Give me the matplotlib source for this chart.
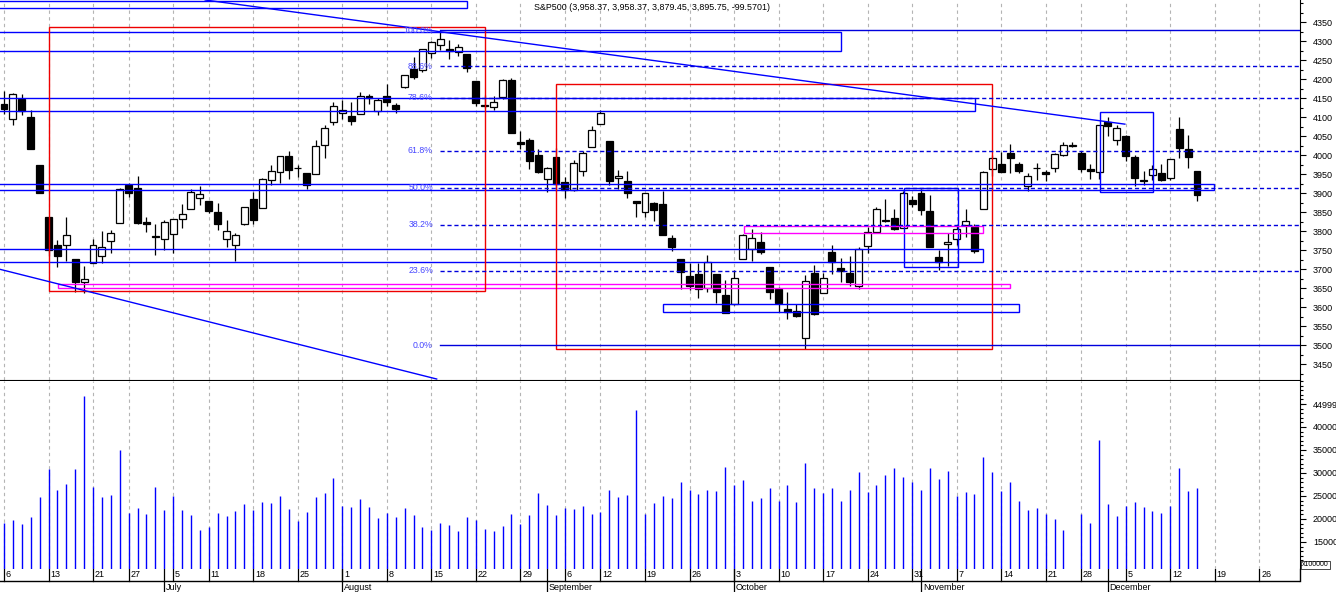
import numpy as np
import pandas as pd
import matplotlib
matplotlib.use("Agg")
import matplotlib.pyplot as plt
from matplotlib.patches import Rectangle
from matplotlib.ticker import FixedLocator, MultipleLocator

plt.rcParams['font.family'] = ['Liberation Sans', 'DejaVu Sans']

# trading days (US market holidays skipped) + blank days to the right
holidays = pd.to_datetime(['2022-06-20', '2022-07-04', '2022-09-05', '2022-11-24'])
days = pd.bdate_range('2022-06-06', '2022-12-15')
days = days[~days.isin(holidays)]
axis_days = days.append(pd.bdate_range('2022-12-16', '2022-12-30'))

opens = [4134.72, 4096.47, 4147.12, 4101.65, 3974.39, 3838.15, 3763.52, 3764.05, 3728.18, 3665.90,
         3715.31, 3733.89, 3774.71, 3821.75, 3920.76, 3913.00, 3825.09, 3785.99, 3781.00, 3792.61,
         3831.98, 3858.85, 3888.26, 3880.94, 3851.95, 3779.67, 3763.99, 3818.00, 3883.79, 3860.73,
         3935.32, 3955.47, 3998.43, 3965.72, 3953.22, 3951.43, 4026.13, 4087.33, 4112.38, 4104.21,
         4107.96, 4154.85, 4115.87, 4155.93, 4133.11, 4181.02, 4227.40, 4225.02, 4269.37, 4290.46,
         4280.40, 4273.13, 4266.31, 4195.08, 4133.09, 4126.55, 4153.26, 4198.74, 4034.58, 4041.25,
         4000.67, 3936.73, 3994.66, 3930.89, 3909.43, 3959.94, 4022.94, 4083.67, 4037.12, 3940.73,
         3932.41, 3880.95, 3849.91, 3875.23, 3871.40, 3782.36, 3727.14, 3682.72, 3686.44, 3651.94,
         3687.01, 3633.48, 3609.78, 3726.46, 3753.25, 3771.97, 3706.74, 3647.51, 3595.86, 3590.83,
         3520.37, 3690.41, 3638.65, 3746.26, 3703.11, 3689.05, 3657.10, 3762.01, 3799.44, 3825.97,
         3834.69, 3808.26, 3881.85, 3901.79, 3852.90, 3733.25, 3766.98, 3780.71, 3817.02, 3810.94,
         3859.89, 3963.72, 3977.97, 4006.41, 3976.82, 3919.26, 3966.39, 3956.23, 3965.51, 4000.30,
         4023.34, 4005.36, 3964.19, 3957.18, 4087.14, 4040.17, 4052.02, 3996.63, 3933.28, 3947.79,
         3954.17, 3939.29, 4069.38, 4015.54, 3958.37]
highs = [4168.78, 4164.86, 4160.14, 4119.10, 3974.39, 3838.15, 3778.18, 3837.56, 3728.18, 3707.71,
         3779.65, 3801.79, 3802.58, 3913.65, 3927.72, 3945.86, 3836.50, 3818.99, 3829.82, 3832.19,
         3870.91, 3910.63, 3918.50, 3880.94, 3873.41, 3829.44, 3796.41, 3863.62, 3902.44, 3939.81,
         3974.13, 3999.29, 4012.44, 3975.30, 3953.22, 4039.56, 4078.95, 4140.15, 4144.95, 4140.47,
         4167.66, 4161.29, 4151.58, 4186.62, 4137.30, 4211.03, 4257.91, 4280.47, 4301.79, 4325.28,
         4302.18, 4292.53, 4266.31, 4195.08, 4159.77, 4156.56, 4200.54, 4203.04, 4062.99, 4044.98,
         4015.37, 3970.23, 4018.43, 3942.55, 3987.89, 4010.50, 4076.81, 4119.28, 4037.12, 3961.94,
         3959.14, 3880.95, 3900.45, 3876.01, 3907.07, 3790.00, 3727.14, 3715.67, 3717.53, 3736.74,
         3687.01, 3671.44, 3698.35, 3791.92, 3806.91, 3797.93, 3706.74, 3652.17, 3640.66, 3608.34,
         3685.41, 3712.00, 3689.73, 3762.79, 3728.58, 3736.00, 3757.89, 3810.74, 3862.85, 3886.15,
         3859.95, 3905.42, 3893.73, 3911.79, 3894.44, 3750.59, 3796.34, 3813.95, 3859.40, 3818.20,
         3958.33, 4001.48, 4008.97, 4028.84, 3983.09, 3954.33, 3979.89, 3962.00, 4005.88, 4033.78,
         4034.02, 4012.27, 3976.77, 4080.11, 4100.51, 4080.48, 4052.45, 4001.51, 3957.57, 3974.19,
         3977.02, 3990.71, 4100.96, 4053.76, 3958.37]
lows = [4109.18, 4080.19, 4107.20, 4017.17, 3900.16, 3734.30, 3705.68, 3722.30, 3639.77, 3636.87,
        3715.31, 3717.69, 3743.52, 3821.75, 3889.66, 3820.14, 3799.02, 3738.67, 3752.10, 3742.06,
        3809.37, 3858.85, 3869.34, 3847.22, 3802.36, 3759.07, 3721.56, 3817.18, 3818.63, 3860.73,
        3922.03, 3927.64, 3938.85, 3943.46, 3910.74, 3951.43, 3992.97, 4079.22, 4096.02, 4079.81,
        4107.96, 4135.42, 4107.31, 4128.97, 4112.09, 4177.26, 4201.41, 4219.78, 4256.90, 4277.77,
        4253.08, 4261.98, 4218.70, 4129.86, 4124.03, 4119.97, 4147.59, 4057.66, 4017.42, 3965.21,
        3954.53, 3903.65, 3906.21, 3886.75, 3906.03, 3944.81, 4022.94, 4083.67, 3921.73, 3912.21,
        3888.28, 3837.08, 3838.50, 3827.54, 3789.49, 3749.45, 3647.47, 3644.76, 3623.29, 3640.61,
        3610.40, 3584.13, 3604.93, 3726.46, 3722.66, 3739.22, 3620.73, 3588.10, 3568.45, 3573.86,
        3491.58, 3579.68, 3638.65, 3686.53, 3666.51, 3656.44, 3647.42, 3741.65, 3799.44, 3824.07,
        3803.79, 3808.26, 3863.18, 3843.80, 3758.68, 3698.15, 3708.84, 3764.70, 3786.28, 3744.22,
        3859.89, 3944.82, 3956.40, 3953.17, 3954.34, 3906.54, 3935.98, 3933.34, 3956.88, 3998.66,
        4020.76, 3955.77, 3937.65, 3938.58, 4050.87, 4026.63, 3984.49, 3918.39, 3922.68, 3935.83,
        3933.04, 3935.30, 3993.03, 3965.65, 3879.45]
closes = [4121.43, 4160.68, 4115.77, 4017.82, 3900.86, 3749.63, 3735.48, 3789.99, 3666.77, 3674.84,
          3764.79, 3759.89, 3795.73, 3911.74, 3900.11, 3821.55, 3818.83, 3785.38, 3825.33, 3831.39,
          3845.08, 3902.62, 3899.38, 3854.43, 3818.80, 3801.78, 3790.38, 3863.16, 3830.85, 3936.69,
          3959.90, 3998.95, 3961.63, 3966.84, 3921.05, 4023.61, 4072.43, 4130.29, 4118.63, 4091.19,
          4155.17, 4151.94, 4145.19, 4140.06, 4122.47, 4210.24, 4207.27, 4280.15, 4297.14, 4305.20,
          4274.04, 4283.74, 4228.48, 4137.99, 4128.73, 4140.77, 4199.12, 4057.66, 4030.61, 3986.16,
          3955.00, 3966.85, 3924.26, 3908.19, 3979.87, 4006.18, 4067.36, 4110.41, 3932.69, 3946.01,
          3901.35, 3873.33, 3899.89, 3855.93, 3789.93, 3757.99, 3693.23, 3655.04, 3647.29, 3719.04,
          3640.47, 3585.62, 3678.43, 3790.93, 3783.28, 3744.52, 3639.66, 3612.39, 3588.84, 3577.03,
          3669.91, 3583.07, 3677.95, 3719.98, 3695.16, 3665.78, 3752.75, 3797.34, 3859.11, 3830.60,
          3807.30, 3901.06, 3871.98, 3856.10, 3759.69, 3719.89, 3770.55, 3806.80, 3828.11, 3748.57,
          3956.37, 3992.93, 3957.25, 3991.73, 3958.79, 3946.56, 3965.34, 3949.94, 4003.58, 4027.26,
          4026.12, 3963.94, 3957.63, 4080.11, 4076.57, 4071.70, 3998.84, 3941.26, 3933.92, 3963.51,
          3934.38, 3990.56, 4019.65, 3995.32, 3895.75]
# volume in units of 100000, Nov 25 has no bar
volumes = [19200, 19780, 18910, 20440, 24780, 30870, 26310, 27610, 30870, 46740,
           26960, 24780, 25220, 35000, 21310, 22390, 21090, 26960, 21960, 25000,
           21960, 20870, 17610, 18260, 21310, 20650, 21740, 23260, 21960, 23700,
           23480, 25000, 22170, 19570, 21520, 24780, 25650, 28910, 22830, 22610,
           24350, 22610, 20220, 21310, 20440, 22390, 20870, 18260, 17610, 19130,
           18700,
           17390, 20440, 19780, 17830, 17390, 18480, 21090, 18980, 20870, 25650,
           23040, 20870, 22390, 22170, 22830, 21090, 21520, 26310, 24780, 25220,
           43700, 21090, 23480, 25000, 24570, 28040, 26310, 25440, 26310, 26090,
           31310, 27390, 28480, 23910, 24570, 26740, 23910, 27390, 23700, 32180,
           26740, 25650, 26740, 23910, 26310, 30220, 25870, 27390, 29570,
           31090, 29130, 28040, 26310, 31090, 28700, 30440, 25000, 25870, 25440,
           33480, 30220, 26090, 28040, 23910, 21960, 22390, 21090, 20000, 17610,
           np.nan, 21090, 19130, 37180, 23260, 20650, 22830, 23700, 22610, 21740,
           21310, 22830, 31090, 26090, 26740]

title = "S&P500 (3,958.37, 3,958.37, 3,879.45, 3,895.75, -99.5701)"

# fibonacci retracement
fib_low, fib_high = 3500, 4329
fib_ratios = [1.0, 0.886, 0.786, 0.618, 0.5, 0.382, 0.236, 0.0]
fib_labels = ["100.0%", "88.6%", "78.6%", "61.8%", "50.0%", "38.2%", "23.6%", "0.0%"]
fib_start = 48.97

# drawn objects: (first day, last day, low price, high price)
blue_boxes = [(-5, 52.0, 4386.8, 4406.8), (-5, 94.0, 4273.7, 4323.7),
              (-5, 109.1, 4115.8, 4150.0), (-5, 135.9, 3907.9, 3923.7),
              (-5, 110.0, 3719.2, 3752.6), (74.0, 114.0, 3586.8, 3607.9),
              (101.1, 107.2, 3706.0, 3914.0), (123.1, 129.1, 3902.6, 4113.0)]
magenta_boxes = [(6.07, 113.0, 3650.0, 3662.6), (83.1, 110.0, 3794.7, 3814.0)]
red_boxes = [(5.05, 54.0, 3643.7, 4336.8), (62.0, 111.0, 3489.5, 4186.8)]
trend_lines = [((22.6, 4408.7), (125.9, 4082.0)), ((-0.45, 3700.0), (48.6, 3411.3))]

W, H = 1336, 592
fig = plt.figure(figsize=(W / 100, H / 100), dpi=100)
ax_p = fig.add_axes([0, 1 - 380 / H, 1300 / W, 380 / H])
ax_v = fig.add_axes([0, (H - 569.3) / H, 1300 / W, (569.3 - 381) / H])
ax_d = fig.add_axes([0, 0, 1300 / W, (H - 569.3) / H])

xmin, xmax = -0.449, 145.57
for ax in (ax_p, ax_v, ax_d):
    ax.set_xlim(xmin, xmax)
    ax.set_xticks([])
    for s in ('top', 'left', 'bottom', 'right'):
        ax.spines[s].set_visible(False)

idx = np.arange(len(closes))
o, h, l, c = (np.array(a) for a in (opens, highs, lows, closes))
up = c >= o

week_pos = []
seen = set()
for i, d in enumerate(axis_days):
    key = d.isocalendar()[:2]
    if key not in seen:
        seen.add(key)
        week_pos.append((i, str(d.day)))
month_pos = []
seen = set()
for i, d in enumerate(axis_days):
    if d.month not in seen:
        seen.add(d.month)
        month_pos.append((i, d.strftime('%B')))
month_pos = month_pos[1:]

grid_kw = dict(color='#b4b4b4', lw=0.8, linestyle=(0, (3, 3)), zorder=0)
for i, _ in week_pos:
    ax_p.axvline(i, **grid_kw)
    ax_v.axvline(i, **grid_kw)

# price panel
ax_p.set_ylim(3408.7, 4408.7)
ax_p.vlines(idx, l, h, color='black', lw=0.9, zorder=2)
body_lo = np.minimum(o, c)
body_h = np.maximum(np.abs(c - o), 1.0)
ax_p.bar(idx[up], body_h[up], bottom=body_lo[up], width=0.78, color='white',
         edgecolor='black', lw=0.9, zorder=3)
ax_p.bar(idx[~up], body_h[~up], bottom=body_lo[~up], width=0.78, color='black',
         edgecolor='black', lw=0.9, zorder=3)

for boxes, col in ((blue_boxes, '#0000ff'), (magenta_boxes, '#ff00ff'), (red_boxes, '#ee0000')):
    for x0, x1, y0, y1 in boxes:
        ax_p.add_patch(Rectangle((x0, y0), x1 - x0, y1 - y0, fill=False,
                                 ec=col, lw=1.0, zorder=4))
for (x0, y0), (x1, y1) in trend_lines:
    ax_p.plot([x0, x1], [y0, y1], color='#0000ff', lw=1.0, zorder=4)

for r, lab in zip(fib_ratios, fib_labels):
    lev = fib_low + r * (fib_high - fib_low)
    ls = '-' if r in (0.0, 1.0) else (0, (3, 2))
    ax_p.plot([fib_start, xmax], [lev, lev], color='#0000dd', lw=1.0, linestyle=ls, zorder=4)
    ax_p.text(fib_start - 0.8, lev, lab, color='#4646ff', fontsize=6.3, ha='right',
              va='center', zorder=5)

ax_p.spines['bottom'].set_visible(True)
ax_p.spines['right'].set_visible(True)
ax_p.yaxis.tick_right()
ax_p.yaxis.set_major_locator(FixedLocator(range(3450, 4351, 50)))
ax_p.yaxis.set_minor_locator(MultipleLocator(25))
ax_p.tick_params(axis='y', which='major', length=4.3, width=0.8, pad=5, labelsize=6.5)
ax_p.tick_params(axis='y', which='minor', length=2.5, width=0.8)

# volume panel
vol = np.array(volumes, dtype=float)
ok = ~np.isnan(vol)
ax_v.set_ylim(9065, 50000)
ax_v.vlines(idx[ok], 0, vol[ok], color='#0000ff', lw=1.0, zorder=2)
ax_v.spines['right'].set_visible(True)
ax_v.yaxis.tick_right()
vticks = [15000, 20000, 25000, 30000, 35000, 40000, 44999]
ax_v.yaxis.set_major_locator(FixedLocator(vticks))
ax_v.set_yticklabels([str(v) for v in vticks])
ax_v.yaxis.set_minor_locator(MultipleLocator(1000))
ax_v.tick_params(axis='y', which='major', length=4.3, width=0.8, pad=5, labelsize=6.5)
ax_v.tick_params(axis='y', which='minor', length=1.8, width=0.8)
fig.text(1302 / W, 1 - 565 / H, 'x100000', fontsize=5, ha='left', va='center',
         bbox=dict(boxstyle='square,pad=0.12', fc='white', ec='black', lw=0.5))

# date strip
ax_d.set_ylim(0, 1)
ax_d.set_yticks([])
ax_d.axhline(0.485, color='black', lw=1.0)
ax_d.plot([1, 1], [0.485, 1], color='black', lw=1.0, transform=ax_d.transAxes, clip_on=False)
for i, lab in week_pos:
    ax_d.plot([i, i], [0.485, 1], color='black', lw=0.9)
    ax_d.text(i + 0.2, 0.75, lab, fontsize=6.5, ha='left', va='center')
for i, lab in month_pos:
    ax_d.plot([i, i], [0, 1], color='black', lw=0.9)
    ax_d.text(i + 0.2, 0.22, lab, fontsize=6.5, ha='left', va='center')

fig.text(534 / W, 1 - 7.5 / H, title, fontsize=6.4, ha='left', va='center')

fig.savefig('out.png', dpi=100)
